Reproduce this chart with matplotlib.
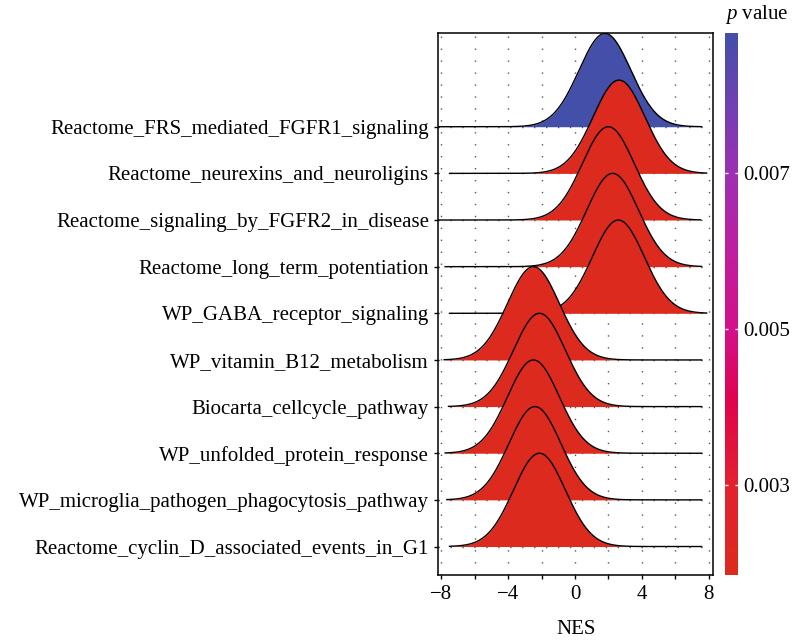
import numpy as np
import matplotlib
matplotlib.use("Agg")
import matplotlib.pyplot as plt
from matplotlib.colors import LinearSegmentedColormap, Normalize

plt.rcParams['font.family'] = ['Liberation Serif', 'DejaVu Serif']
plt.rcParams['mathtext.fontset'] = 'custom'
plt.rcParams['mathtext.rm'] = 'Liberation Serif'
plt.rcParams['mathtext.it'] = 'Liberation Serif:italic'

# pathways, bottom to top
pathways = [
    'Reactome_cyclin_D_associated_events_in_G1',
    'WP_microglia_pathogen_phagocytosis_pathway',
    'WP_unfolded_protein_response',
    'Biocarta_cellcycle_pathway',
    'WP_vitamin_B12_metabolism',
    'WP_GABA_receptor_signaling',
    'Reactome_long_term_potentiation',
    'Reactome_signaling_by_FGFR2_in_disease',
    'Reactome_neurexins_and_neuroligins',
    'Reactome_FRS_mediated_FGFR1_signaling',
]
nes_center = [-2.13, -2.40, -2.49, -2.13, -2.49, 2.59, 2.25, 1.99, 2.63, 1.79]
nes_from = [-7.51, -7.67, -7.77, -7.57, -7.83, -7.51, -7.77, -8.11, -7.51, -8.19]
nes_to = [7.57, 7.57, 7.57, 7.57, 7.57, 7.87, 7.57, 7.51, 7.87, 7.57]
nes_sd = 1.55
p_values = [0.00185, 0.00185, 0.00185, 0.00185, 0.00185,
            0.00185, 0.00185, 0.00185, 0.00185, 0.0088]
ridge_height = 2.0

cmap = LinearSegmentedColormap.from_list('pval', [
    (0.00, '#DC2A1E'),
    (0.16, '#E2222E'),
    (0.32, '#E0034C'),
    (0.45, '#D3108A'),
    (0.60, '#BF1E9E'),
    (0.74, '#9C2FB3'),
    (0.87, '#7040B2'),
    (1.00, '#434FA8'),
])
norm = Normalize(vmin=min(p_values), vmax=max(p_values))

fig = plt.figure(figsize=(7.92, 6.43), dpi=100)
ax = fig.add_axes([0.553, 0.1058, 0.3476, 0.8429])

grid_style = dict(color='#555555', lw=1.0, linestyle=(0, (1, 7.6)), zorder=0)
for gx in np.arange(-8, 9, 2):
    ax.axvline(gx, **grid_style)
for i in range(len(pathways)):
    ax.axhline(i + 1, **grid_style)

n = len(pathways)
for i in range(n - 1, -1, -1):
    base = i + 1
    x = np.linspace(nes_from[i], nes_to[i], 400)
    dens = np.exp(-0.5 * ((x - nes_center[i]) / nes_sd) ** 2)
    y = base + ridge_height * dens
    z = 2 * (n - i)
    ax.fill_between(x, base, y, color=cmap(norm(p_values[i])), lw=0, zorder=z)
    ax.plot(x, y, color='black', lw=1.0, zorder=z + 1)

ax.set_xlim(-8.2, 8.27)
ax.set_ylim(0.39, 12.01)
ax.set_xticks([-8, -4, 0, 4, 8])
ax.set_xticks([-6, -2, 2, 6], minor=True)
ax.set_yticks(np.arange(1, n + 1))
ax.set_yticklabels(pathways)
ax.tick_params(axis='both', which='both', direction='out', length=3,
               width=1.0, labelsize=15, colors='black')
ax.tick_params(axis='x', pad=4)
for s in ax.spines.values():
    s.set_linewidth(1.1)
    s.set_color('black')
ax.set_xlabel('NES', fontsize=15, labelpad=12)

cax = fig.add_axes([0.9154, 0.1058, 0.0164, 0.8429])
sm = plt.cm.ScalarMappable(norm=norm, cmap=cmap)
cbar = fig.colorbar(sm, cax=cax)
cbar.outline.set_visible(False)
cbar.set_ticks([0.003, 0.005, 0.007])
cbar.set_ticklabels(['0.003', '0.005', '0.007'])
cax.tick_params(which='both', direction='in', color='white', length=2.5,
                width=1.0, left=True, right=True, labelsize=15, pad=4)
cax.minorticks_off()
fig.text(0.915, 0.978, '$p$ value', fontsize=15, ha='left', va='center')

fig.savefig('out.png', dpi=100)
